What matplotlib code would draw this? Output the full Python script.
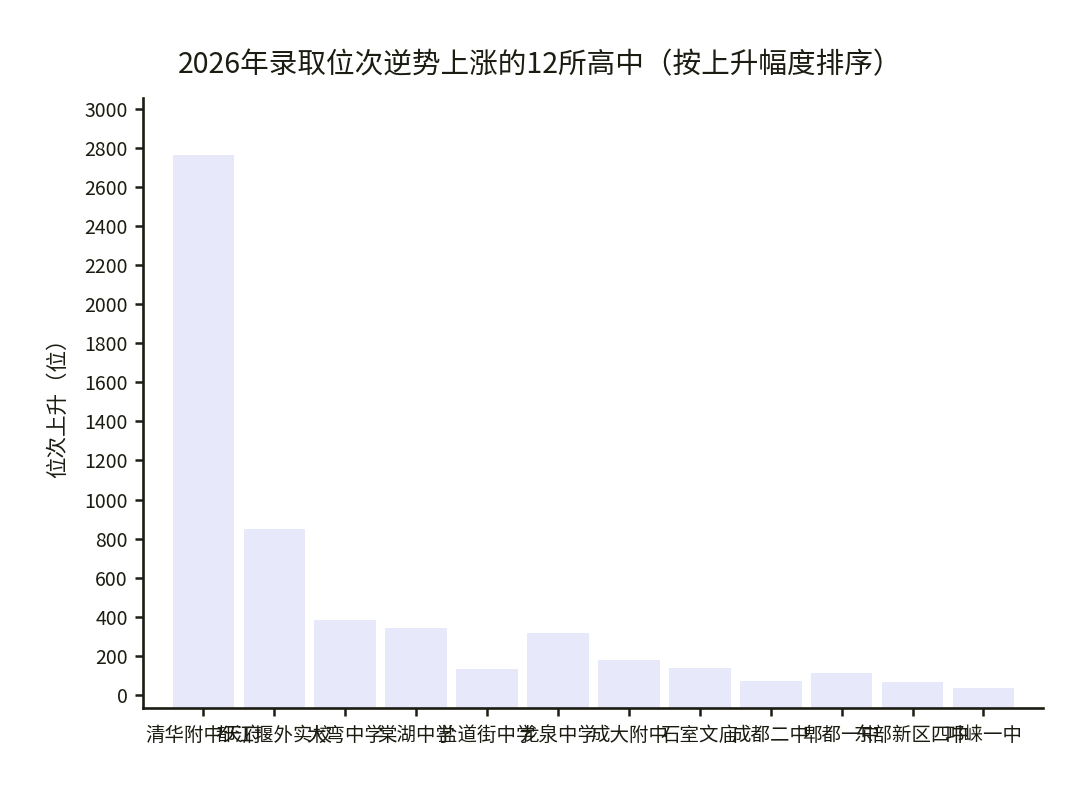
import matplotlib
matplotlib.use("Agg")
import matplotlib.pyplot as plt
import numpy as np

plt.rcParams['font.family'] = ['Noto Sans CJK SC', 'DejaVu Sans']

# ---- data ----
schools = ["清华附中天府", "都江堰外实校", "大弯中学", "棠湖中学", "盐道街中学", "龙泉中学",
           "成大附中", "石室文庙", "成都二中", "郫都一中", "东部新区四中", "邛崃一中"]
rise = [2760, 850, 383, 342, 132, 316, 178, 137, 72, 114, 65, 36]
yticks = list(range(0, 3001, 200))

title = "2026年录取位次逆势上涨的12所高中（按上升幅度排序）"
ylabel = "位次上升（位）"

# ---- style ----
TEXT = "#1c1c12"
BAR = "#E8E8FB"
YMIN, YMAX = -66, 3054

fig = plt.figure(figsize=(10.8, 7.92), dpi=100)
ax = fig.add_axes([143/1080, 84/792, 900/1080, 610/792])

x = np.arange(len(schools))
ax.bar(x, np.array(rise) - YMIN, bottom=YMIN, width=0.87, color=BAR, linewidth=0)

ax.set_ylim(YMIN, YMAX)
ax.set_xlim(-0.853, 11.84)
ax.set_yticks(yticks)
ax.set_xticks(x)
ax.set_xticklabels(schools)

for s in ("top", "right"):
    ax.spines[s].set_visible(False)
for s in ("left", "bottom"):
    ax.spines[s].set_linewidth(1.9)
    ax.spines[s].set_color(TEXT)

ax.tick_params(axis="both", direction="out", length=6, width=1.8, color=TEXT,
               labelsize=14, labelcolor=TEXT)
ax.tick_params(axis="x", pad=6)
ax.tick_params(axis="y", pad=5)

ax.set_ylabel(ylabel, fontsize=15.5, color=TEXT)
ax.yaxis.set_label_coords(-0.082, 0.50)

fig.suptitle(title, x=540/1080, y=1 - 65/792, va="center", fontsize=20.6, color=TEXT)

fig.savefig("out.png", dpi=100, facecolor="white")
